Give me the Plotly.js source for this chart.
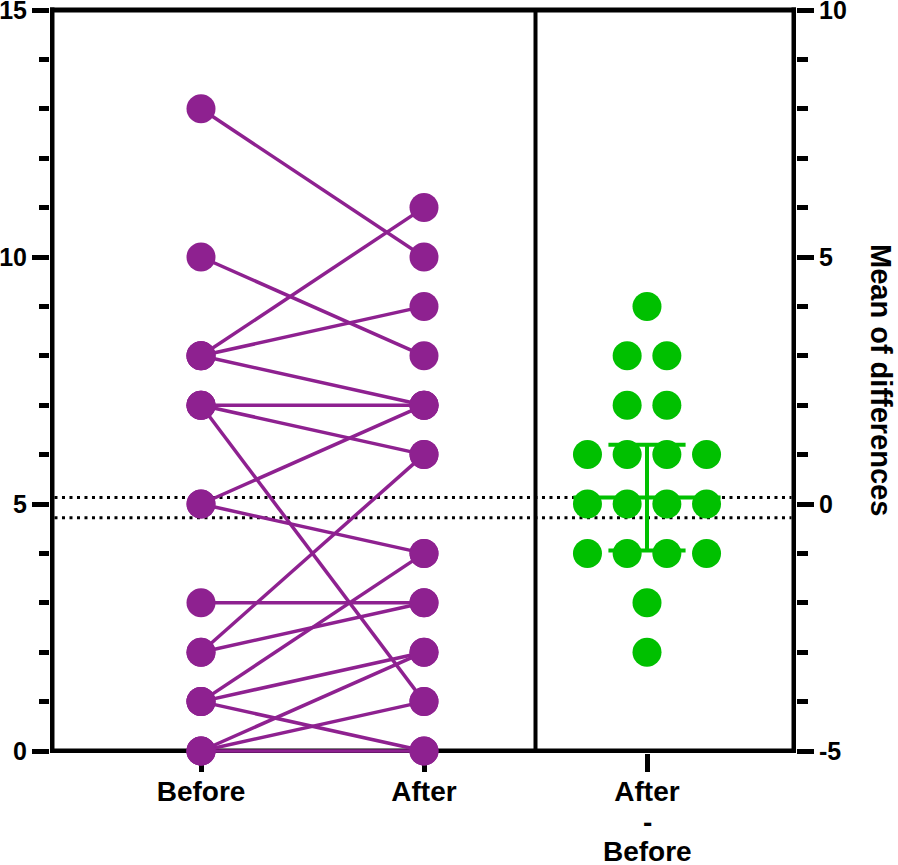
<!DOCTYPE html>
<html>
<head>
<meta charset="utf-8">
<script src="https://cdn.plot.ly/plotly-3.0.1.min.js"></script>
<style>html,body{margin:0;padding:0;background:#fff;}#chart{width:898px;height:865px;}</style>
</head>
<body>
<div id="chart"></div>
<script>
// ---- data ----
const groupLabels = ['Before', 'After'];
const diffLabelLines = ['After', '-', 'Before'];
const beforeValues = [13, 10, 8, 8, 8, 7, 7, 7, 5, 5, 3, 2, 2, 1, 1, 1, 0, 0, 0];
const afterValues  = [10, 8, 11, 9, 7, 7, 6, 1, 7, 4, 3, 6, 3, 4, 2, 0, 2, 1, 0];
const differences  = [4, 3, 3, 2, 2, 1, 1, 1, 1, 0, 0, 0, 0, -1, -1, -1, -1, -2, -3];
const meanDiff = 0.13;
const sdDiff = 1.07;
const dottedRefLines = [0.13, -0.28];
const leftTicks = [0, 5, 10, 15];
const rightTicks = [-5, 0, 5, 10];
const rightTickText = ['-5', '0', '5', '10'];
const rightTitle = 'Mean of differences';

// ---- styles / geometry ----
const PURPLE = '#8E2190';
const GREEN = '#00C000';
const FONT = 'Liberation Sans, Arial, Helvetica, sans-serif';
const posBefore = 1, posAfter = 2, posDivider = 2.5, posDiff = 3;
const swarmStep = 0.178;
const capHalf = 0.173, meanHalf = 0.33;
const pxPerX = 223, pxPerY = 49.4;
const xLeft = 0.3318, xRight = 3.6592;   // frame lines (x units)
const yBot = 0, yTop = 15;               // frame lines (left y units)

// paired lines
const lx = [], ly = [];
beforeValues.forEach((b, i) => {
  lx.push(posBefore, posAfter, null);
  ly.push(b, afterValues[i], null);
});
const px = beforeValues.map(() => posBefore).concat(afterValues.map(() => posAfter));
const py = beforeValues.concat(afterValues);

// swarm layout for differences
const counts = {}, seen = {};
differences.forEach(d => counts[d] = (counts[d] || 0) + 1);
const gx = differences.map(d => {
  const k = seen[d] || 0; seen[d] = k + 1;
  return posDiff + (k - (counts[d] - 1) / 2) * swarmStep;
});

const traces = [
  {x: lx, y: ly, mode: 'lines', line: {color: PURPLE, width: 3.5}, hoverinfo: 'skip', xaxis: 'x', yaxis: 'y'},
  {x: px, y: py, mode: 'markers', cliponaxis: false, marker: {color: PURPLE, size: 29, line: {width: 0}}, xaxis: 'x', yaxis: 'y'},
  {x: gx, y: differences, mode: 'markers', cliponaxis: false, marker: {color: GREEN, size: 29, line: {width: 0}}, xaxis: 'x', yaxis: 'y2'},
  {x: [posDiff, posDiff, null, posDiff - capHalf, posDiff + capHalf, null, posDiff - capHalf, posDiff + capHalf, null, posDiff - meanHalf, posDiff + meanHalf],
   y: [meanDiff - sdDiff, meanDiff + sdDiff, null, meanDiff + sdDiff, meanDiff + sdDiff, null, meanDiff - sdDiff, meanDiff - sdDiff, null, meanDiff, meanDiff],
   mode: 'lines', line: {color: GREEN, width: 4}, xaxis: 'x', yaxis: 'y2'}
];

const LW = 5;
const hx = 2.5 / pxPerX, hy = 2.5 / pxPerY;
const frame = {color: '#000', width: LW};
const shapes = [
  {type: 'line', xref: 'x', yref: 'y', x0: xLeft, x1: xLeft, y0: yBot - hy, y1: yTop + hy, line: frame, layer: 'below'},
  {type: 'line', xref: 'x', yref: 'y', x0: xRight, x1: xRight, y0: yBot - hy, y1: yTop + hy, line: frame, layer: 'below'},
  {type: 'line', xref: 'x', yref: 'y', x0: xLeft - hx, x1: xRight + hx, y0: yTop, y1: yTop, line: frame, layer: 'below'},
  {type: 'line', xref: 'x', yref: 'y', x0: xLeft - hx, x1: xRight + hx, y0: yBot, y1: yBot, line: frame, layer: 'below'},
  {type: 'line', xref: 'x', yref: 'y', x0: posDivider, x1: posDivider, y0: yBot, y1: yTop, line: {color: '#000', width: 4}, layer: 'below'}
];
dottedRefLines.forEach(v => shapes.push({type: 'line', xref: 'x', yref: 'y2', x0: xLeft + hx, x1: xRight - hx, y0: v, y1: v,
  line: {color: '#000', width: 3, dash: '3px,4.5px'}, layer: 'below'}));

const tickCommon = {ticks: 'outside', tickcolor: '#000', tickwidth: 5, showgrid: false, zeroline: false, showline: false,
  layer: 'below traces', ticklabeloverflow: 'allow',
  tickfont: {family: FONT, size: 25, color: '#000', weight: 'bold'}};

// plot area: x 50..796, y 7..753
const yR0 = -(753 - 751) / pxPerY, yR1 = 15 + (10 - 7) / pxPerY;
const layout = {
  width: 898, height: 865,
  margin: {l: 50, r: 102, t: 7, b: 112, pad: 0},
  paper_bgcolor: '#fff', plot_bgcolor: '#fff',
  showlegend: false,
  font: {family: FONT, color: '#000', weight: 'bold'},
  xaxis: Object.assign({}, tickCommon, {
    range: [1 - 151 / pxPerX, 1 + 595 / pxPerX], tickmode: 'array', tickvals: [posBefore, posAfter, posDiff],
    ticktext: groupLabels.concat([diffLabelLines[0]]), ticklen: 18, ticklabelstandoff: -5,
    tickfont: {family: FONT, size: 28, color: '#000', weight: 'bold'}
  }),
  yaxis: Object.assign({}, tickCommon, {
    range: [yR0, yR1], tickmode: 'array', tickvals: leftTicks, ticklen: 17,
    minor: {dtick: 1, ticks: 'outside', ticklen: 10, tickwidth: 5, tickcolor: '#000', showgrid: false}
  }),
  yaxis2: Object.assign({}, tickCommon, {
    range: [yR0 - 5, yR1 - 5], tickmode: 'array', tickvals: rightTicks, ticktext: rightTickText, ticklen: 17,
    overlaying: 'y', side: 'right', anchor: 'x',
    minor: {dtick: 1, ticks: 'outside', ticklen: 11, tickwidth: 5, tickcolor: '#000', showgrid: false}
  }),
  shapes: shapes,
  annotations: [
    {text: diffLabelLines[1], xref: 'x', yref: 'paper', x: posDiff, y: (753 - 822) / 746, showarrow: false,
     font: {family: FONT, size: 28, color: '#000', weight: 'bold'}, yanchor: 'middle'},
    {text: diffLabelLines[2], xref: 'x', yref: 'paper', x: posDiff, y: (753 - 851) / 746, showarrow: false,
     font: {family: FONT, size: 28, color: '#000', weight: 'bold'}, yanchor: 'middle'},
    {text: rightTitle, xref: 'paper', yref: 'paper', x: (881 - 50) / 746, y: (753 - 380) / 746, showarrow: false,
     textangle: 90, font: {family: FONT, size: 29, color: '#000', weight: 'bold'}, xanchor: 'center', yanchor: 'middle'}
  ]
};

Plotly.newPlot('chart', traces, layout, {displayModeBar: false, staticPlot: true});
</script>
</body>
</html>
